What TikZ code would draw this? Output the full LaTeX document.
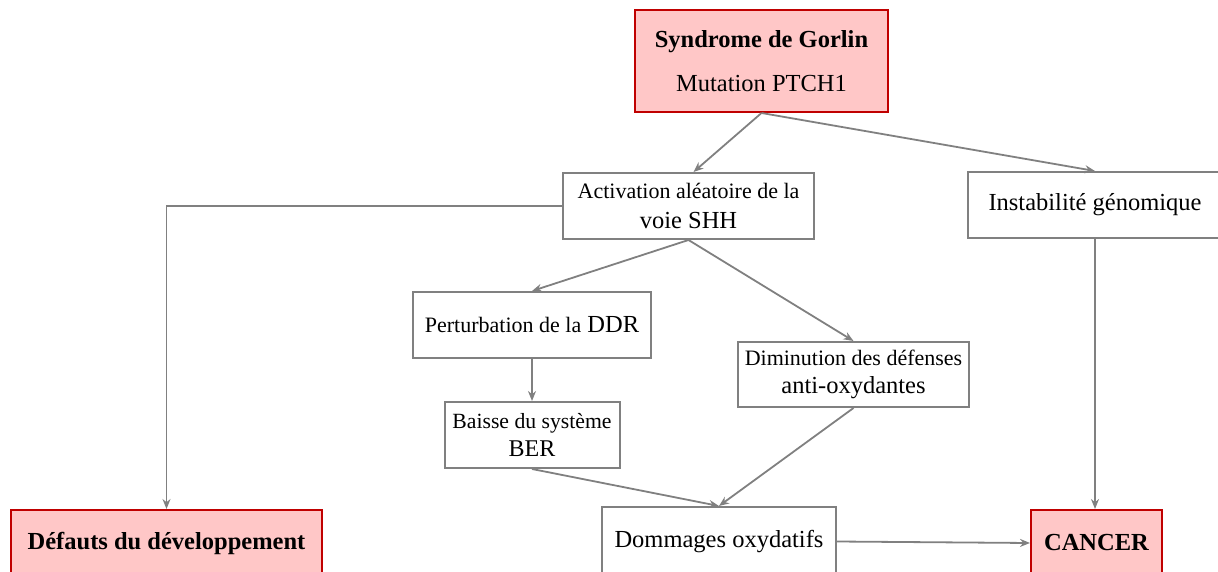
\documentclass[tikz,border=0pt]{standalone}
\usepackage{fontspec}
\setmainfont{Liberation Serif}
\usetikzlibrary{positioning, arrows.meta}
\definecolor{issuefill}{HTML}{FFC7C7}
\definecolor{issuedraw}{HTML}{C00000}
\definecolor{boxgray}{HTML}{808080}
\tikzset{
    etape/.style={
        draw=boxgray, fill=white,
        line width=2pt,
        inner sep=0pt, align=center,
        font=\fontsize{24.5}{30}\selectfont,
    },
    issue/.style={
        draw=issuedraw, fill=issuefill,
        line width=2pt,
        inner sep=0pt, align=center,
        font=\fontsize{24.5}{30}\selectfont\bfseries,
    },
    flow/.style={
        -{Stealth[length=10pt, width=8pt]},
        line width=1.8pt, color=boxgray,
    },
}

\begin{document}
\begin{tikzpicture}[x=1pt, y=-1pt]
\useasboundingbox (0,0) rectangle (1218,572);

% =============================================
% Top: origin of the cascade
% =============================================
\node[issue, minimum width=253pt, minimum height=102pt,
      font=\fontsize{24.5}{44}\selectfont] (gorlin) at (761.5,61)
    {\bfseries Syndrome de Gorlin\\ Mutation PTCH1};

% =============================================
% Row 2: SHH pathway + genomic instability
% =============================================
\node[etape, minimum width=251pt, minimum height=66pt] (shh) at (688.5,206)
    {{\fontsize{22}{30}\selectfont Activation aléatoire de la}\\ voie SHH};
\node[etape, minimum width=254pt, minimum height=66pt] (instab) at (1095,205)
    {\raisebox{-3pt}{Instabilité génomique}};

% =============================================
% Middle: DDR branch and anti-oxidant branch
% =============================================
\node[etape, minimum width=238pt, minimum height=66pt] (ddr) at (532,325)
    {{\fontsize{22}{30}\selectfont Perturbation de la} DDR};
\node[etape, minimum width=175pt, minimum height=66pt,
      font=\fontsize{24}{28}\selectfont, below=42pt of ddr] (ber)
    {{\fontsize{21.7}{28}\selectfont Baisse du système}\\ BER};
\node[etape, minimum width=231pt, minimum height=65pt,
      font=\fontsize{24.5}{28}\selectfont] (antiox) at (853.5,374.5)
    {{\fontsize{22}{28}\selectfont Diminution des défenses}\\ anti-oxydantes};

% =============================================
% Bottom row: outcomes
% =============================================
\node[issue, minimum width=311pt, minimum height=66pt] (defauts) at (166.5,543)
    {Défauts du développement};
\node[etape, minimum width=234pt, minimum height=69pt] (dommages) at (719,541.5)
    {Dommages oxydatifs};
\node[issue, minimum width=131pt, minimum height=66pt] (cancer) at (1096.5,543)
    {CANCER};

% =============================================
% Arrows
% =============================================
\draw[flow] (gorlin.south) -- ([xshift=5pt]shh.north);
\draw[flow] (gorlin.south) -- (instab.north);
\draw[flow] (shh.west) -| (defauts.north);
\draw[flow] (shh.south) -- (ddr.north);
\draw[flow] (shh.south) -- (antiox.north);
\draw[flow] (ddr.south) -- (ber.north);
\draw[flow] (ber.south) -- (dommages.north);
\draw[flow] (antiox.south) -- (dommages.north);
\draw[flow] (instab.south) -- (instab.south |- cancer.north);
\draw[flow] (dommages.east) -- (cancer.west);

\end{tikzpicture}
\end{document}
